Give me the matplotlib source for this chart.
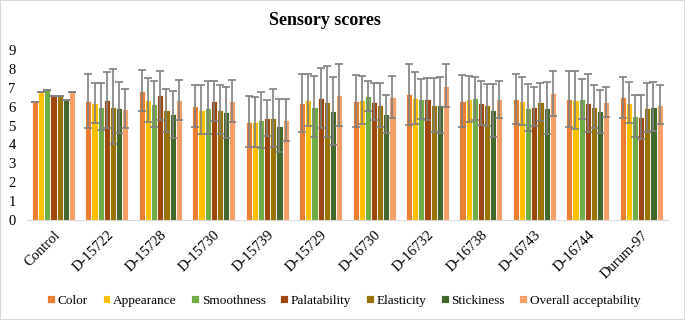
import numpy as np
import matplotlib
matplotlib.use("Agg")
import matplotlib.pyplot as plt
from matplotlib.patches import Rectangle

plt.rcParams["font.family"] = ["Liberation Serif", "DejaVu Serif"]

categories = ["Control", "D-15722", "D-15728", "D-15730", "D-15739", "D-15729",
              "D-16730", "D-16732", "D-16738", "D-16743", "D-16744", "Durum-97"]

attributes = ["Color", "Appearance", "Smoothness", "Palatability",
              "Elasticity", "Stickiness", "Overall acceptability"]

# mean scores
color = [6.25, 6.3, 6.85, 6.05, 5.2, 6.2, 6.3, 6.65, 6.3, 6.4, 6.4, 6.5]
appearance = [6.8, 6.2, 6.35, 5.85, 5.2, 6.35, 6.35, 6.45, 6.4, 6.3, 6.35, 6.2]
smoothness = [6.9, 6.0, 6.15, 5.95, 5.3, 6.0, 6.55, 6.4, 6.45, 5.95, 6.4, 5.5]
palatability = [6.55, 6.35, 6.6, 6.3, 5.4, 6.45, 6.25, 6.4, 6.2, 6.0, 6.2, 5.45]
elasticity = [6.55, 6.0, 5.8, 5.85, 5.4, 6.25, 6.1, 6.1, 6.1, 6.25, 6.0, 5.95]
stickiness = [6.35, 5.95, 5.6, 5.7, 5.0, 5.75, 5.6, 6.1, 5.8, 5.95, 5.75, 6.0]
overall = [6.75, 5.9, 6.35, 6.3, 5.3, 6.6, 6.5, 7.1, 6.4, 6.7, 6.25, 6.1]

# standard deviations
color_sd = [0, 1.45, 1.1, 1.1, 1.35, 1.53, 1.36, 1.63, 1.4, 1.33, 1.48, 1.09]
appearance_sd = [0, 1.05, 1.15, 1.3, 1.33, 1.36, 1.25, 1.38, 1.23, 1.25, 1.55, 1.08]
smoothness_sd = [0, 1.25, 1.2, 1.4, 1.5, 1.6, 0.8, 1.07, 1.13, 1.23, 1.04, 1.11]
palatability_sd = [0, 1.5, 1.3, 1.05, 0.97, 1.58, 0.98, 1.12, 1.16, 1.02, 1.55, 1.18]
elasticity_sd = [0, 2.0, 1.15, 1.3, 1.52, 1.88, 1.15, 1.42, 1.12, 1.0, 1.13, 1.31]
stickiness_sd = [0, 1.35, 1.25, 1.35, 1.4, 1.8, 1.0, 1.48, 1.38, 1.37, 1.15, 1.3]
overall_sd = [0, 1.05, 1.05, 1.13, 1.13, 1.64, 1.1, 1.14, 0.98, 1.21, 0.79, 1.04]

means = [color, appearance, smoothness, palatability, elasticity, stickiness, overall]
sds = [color_sd, appearance_sd, smoothness_sd, palatability_sd, elasticity_sd,
       stickiness_sd, overall_sd]
colors = ["#ED7D31", "#FFC000", "#70AD47", "#9E480E", "#997300", "#43682B", "#F4A068"]

fig = plt.figure(figsize=(6.85, 3.2), dpi=100)
fig.patches.append(Rectangle((0, 0), 1, 1, transform=fig.transFigure, fill=False,
                             edgecolor="#D9D9D9", linewidth=1.5))
ax = fig.add_axes([0.039, 0.312, 0.936, 0.532])

x = np.arange(len(categories))
width = 0.115
for i, (m, s, c, name) in enumerate(zip(means, sds, colors, attributes)):
    pos = x + (i - 3) * width
    ax.bar(pos, m, width, color=c, edgecolor="white", linewidth=0.6, label=name, zorder=2)
    ax.errorbar(pos, m, yerr=s, fmt="none", ecolor="#808080", elinewidth=1.2,
                capsize=2.6, capthick=1.2, zorder=3)

ax.set_xlim(-0.5, len(categories) - 0.5)
ax.set_ylim(0, 9)
ax.set_yticks(range(10))
ax.set_xticks(x)
ax.set_xticklabels(categories, rotation=45, ha="right", rotation_mode="anchor")
ax.tick_params(axis="y", length=0, labelsize=10.5, pad=8)
ax.tick_params(axis="x", length=0, labelsize=10.5, pad=6)
for side in ["top", "right", "left"]:
    ax.spines[side].set_visible(False)
ax.spines["bottom"].set_color("#D9D9D9")

fig.text(0.474, 0.935, "Sensory scores", ha="center", va="center",
         fontsize=13, fontweight="bold")

fig.legend(loc="center", bbox_to_anchor=(0.502, 0.06), ncol=7, frameon=False,
           fontsize=9.5, handlelength=0.6, handleheight=0.6, handletextpad=0.2,
           columnspacing=1.1)

fig.savefig("out.png", dpi=100)
